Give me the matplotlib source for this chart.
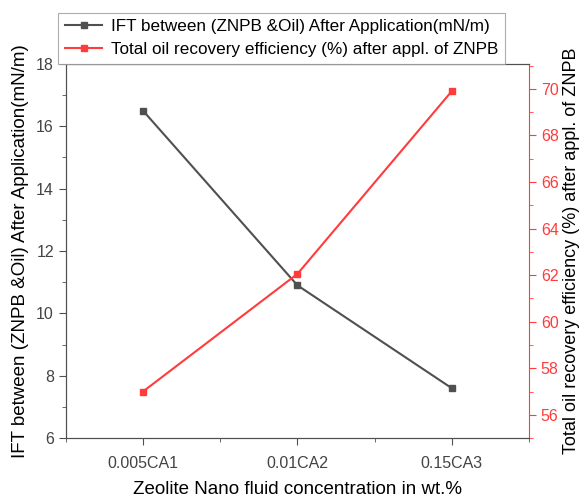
import matplotlib
matplotlib.use('Agg')
import matplotlib.pyplot as plt
from matplotlib.ticker import MultipleLocator

plt.rcParams['font.family'] = ['Liberation Sans', 'DejaVu Sans']

categories = ['0.005CA1', '0.01CA2', '0.15CA3']
ift = [16.5, 10.9, 7.6]
recovery = [57.0, 62.05, 69.9]

ift_label = 'IFT between (ZNPB &Oil) After Application(mN/m)'
rec_label = 'Total oil recovery efficiency (%) after appl. of ZNPB'

black = '#505050'
red = '#ff3b3b'

fig = plt.figure(figsize=(5.82, 4.99), dpi=100)
ax = fig.add_axes([0.113, 0.122, 0.796, 0.750])
ax2 = ax.twinx()

x = range(len(categories))
l1, = ax.plot(x, ift, color=black, marker='s', markersize=5, lw=1.5, label=ift_label)
l2, = ax2.plot(x, recovery, color=red, marker='s', markersize=5, lw=1.5, label=rec_label)

ax.set_xlim(-0.5, 2.5)
ax.set_xticks(list(x))
ax.set_xticklabels(categories)
ax.xaxis.set_minor_locator(MultipleLocator(0.5))
ax.set_ylim(6, 18)
ax.yaxis.set_major_locator(MultipleLocator(2))
ax.yaxis.set_minor_locator(MultipleLocator(1))
ax2.set_ylim(55, 71.07)
ax2.set_yticks(range(56, 71, 2))
ax2.yaxis.set_minor_locator(MultipleLocator(1))

ax.tick_params(axis='both', which='major', direction='out', length=5, labelsize=11.5,
               color=black, labelcolor='#444444')
ax.tick_params(axis='x', which='major', pad=8)
ax.tick_params(axis='both', which='minor', direction='out', length=3, color=black)
ax2.tick_params(axis='y', which='major', direction='out', length=5, labelsize=11.5,
                color=red, labelcolor=red)
ax2.tick_params(axis='y', which='minor', direction='out', length=3, color=red)

for s in ['left', 'bottom', 'top']:
    ax.spines[s].set_color(black)
    ax2.spines[s].set_color(black)
ax.spines['right'].set_visible(False)
ax2.spines['right'].set_color(red)

ax.set_xlabel('Zeolite Nano fluid concentration in wt.%', fontsize=13.5, labelpad=7)
ax.set_ylabel(ift_label, fontsize=13.5, labelpad=5)
ax2.set_ylabel(rec_label, fontsize=13, labelpad=3)

leg = fig.legend(handles=[l1, l2], loc='upper left', bbox_to_anchor=(0.085, 0.992),
                 fontsize=12.3, frameon=True, fancybox=False, edgecolor='#999999',
                 handlelength=2.2, borderpad=0.4, labelspacing=0.45, handletextpad=0.5)
leg.get_frame().set_linewidth(0.8)

fig.savefig('out.png', dpi=100)
